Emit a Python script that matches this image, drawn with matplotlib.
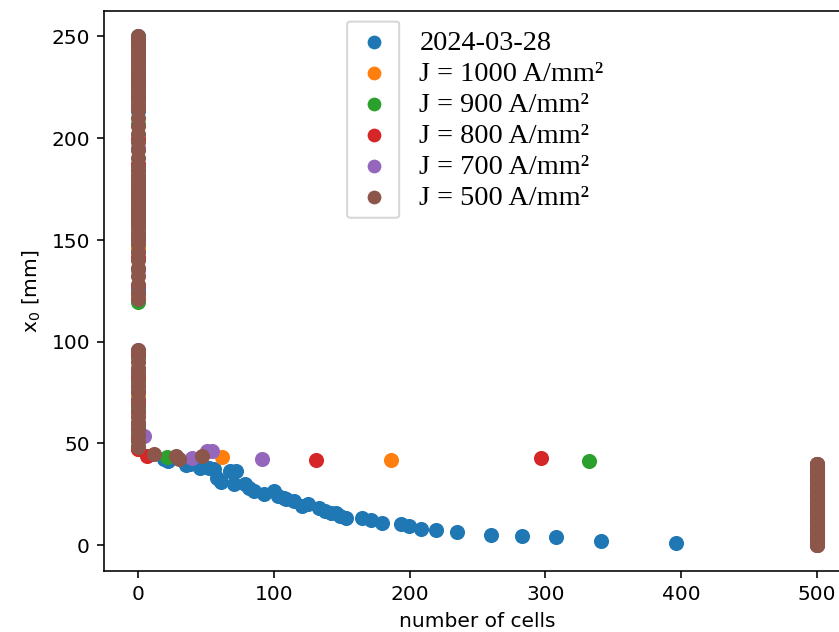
import numpy as np
import matplotlib
matplotlib.use("Agg")
import matplotlib.pyplot as plt
from matplotlib.patches import FancyBboxPatch

# ---------------- data ----------------
labels = ["2024-03-28", "J = 1000 A/mm²", "J = 900 A/mm²",
          "J = 800 A/mm²", "J = 700 A/mm²", "J = 500 A/mm²"]
colors = ["#1f77b4", "#ff7f0e", "#2ca02c", "#d62728", "#9467bd", "#8c564b"]

# x0 values [mm] where the number of cells is 0
blue_zero_x0 = [250, 240, 230, 220, 213, 176, 166, 156, 145, 126, 95, 85, 75, 65, 55, 48]
orange_zero_x0 = [248, 236, 224, 178, 168, 158, 146, 123, 94, 84, 74, 64, 54, 47]
green_zero_x0 = [246, 232, 207, 180, 170, 160, 119.5, 92.6, 79, 68, 58, 48]
red_zero_x0 = [244, 228, 199.5, 187, 172, 162, 141.5, 128, 94, 82, 70.6, 60, 52, 47]
purple_zero_x0 = [247, 237, 226, 195, 184, 174, 164, 152, 135, 124, 96, 86, 76, 66, 57]
brown_zero_x0 = [250, 248, 246, 244, 242, 240, 238, 236, 234, 232, 230, 228, 226, 224,
                 222, 220, 218, 216, 214, 210, 206, 202, 198, 194, 190, 186, 184, 182,
                 180, 178, 176, 174, 172, 170, 168, 166, 164, 162, 160, 158, 156, 154,
                 152, 150, 148, 144, 140, 136, 132, 128, 124, 121,
                 96, 93, 90, 87, 84, 81, 78, 75, 72, 69, 66, 63, 60, 57, 54, 51, 48]

# x0 values [mm] where the number of cells saturates at 500
orange_full_x0 = [40, 36, 32, 28, 24, 20, 16, 12, 8, 4, 0]
green_full_x0 = [40, 36, 32, 28, 24, 20, 16, 12, 8, 4, 0]
red_full_x0 = [40, 36, 32, 28, 24, 20, 16, 12, 8, 4, 0]
purple_full_x0 = [40, 36, 32, 28, 24, 20, 16, 12, 8, 4, 0]
brown_full_x0 = [40, 39, 38, 37, 36, 35, 34, 33, 32, 31, 30, 29, 28, 27, 26, 25, 24,
                 23, 22, 21, 20, 19, 18, 17, 16, 15, 14, 13, 12, 11, 10, 9, 8, 7, 6,
                 5, 4, 3, 2, 1, 0]

# intermediate points (number of cells, x0)
blue_mid_cells = [19, 22, 35, 38, 46, 52, 56, 58.5, 61, 68, 72, 71, 79, 82, 85.5, 93,
                  100, 103, 107.6, 109, 115, 121, 125, 133, 138, 142, 146, 149, 153,
                  165, 171.5, 180, 193.6, 199.7, 208.3, 219.4, 234.6, 260, 283, 308,
                  341, 396]
blue_mid_x0 = [42.5, 41.5, 39.6, 40, 38, 38, 37.2, 33, 31, 36.4, 36.6, 30, 30, 28.2,
               26.6, 25, 26.6, 24.1, 23.3, 22.5, 21.7, 19.2, 20.1, 18.5, 16.8, 16,
               15.7, 14.3, 13.5, 13.5, 12.4, 11.1, 10.3, 9.4, 8.2, 7.3, 6.5, 5.0,
               4.5, 3.8, 2.1, 1.3]
orange_mid_cells = [62, 186]
orange_mid_x0 = [43.2, 41.6]
green_mid_cells = [21.6, 332.4]
green_mid_x0 = [43.2, 41.2]
red_mid_cells = [6.9, 131, 296.8]
red_mid_x0 = [43.7, 41.6, 42.9]
purple_mid_cells = [4.4, 40, 50.6, 54.8, 91.6]
purple_mid_x0 = [53.5, 42.9, 46.1, 46.1, 42.4]
brown_mid_cells = [11.8, 27.8, 30.2, 47.4]
brown_mid_x0 = [44.9, 43.7, 42.1, 43.7]

series = [
    (blue_zero_x0, blue_mid_cells, blue_mid_x0, []),
    (orange_zero_x0, orange_mid_cells, orange_mid_x0, orange_full_x0),
    (green_zero_x0, green_mid_cells, green_mid_x0, green_full_x0),
    (red_zero_x0, red_mid_cells, red_mid_x0, red_full_x0),
    (purple_zero_x0, purple_mid_cells, purple_mid_x0, purple_full_x0),
    (brown_zero_x0, brown_mid_cells, brown_mid_x0, brown_full_x0),
]
ZERO_CELLS = 0
MAX_CELLS = 500

# ---------------- plot ----------------
DPI = 145
fig = plt.figure(figsize=(839.4 / DPI, 632.4 / DPI), dpi=DPI)
ax = fig.add_axes([104 / 839, 0.0970, 746.5 / 839, 0.8856])

for (zero, mc, mx, full), lab, col in zip(series, labels, colors):
    xs = np.concatenate([np.full(len(zero), ZERO_CELLS), np.asarray(mc, float),
                         np.full(len(full), MAX_CELLS)])
    ys = np.concatenate([np.asarray(zero, float), np.asarray(mx, float),
                         np.asarray(full, float)])
    ax.scatter(xs, ys, color=col, label=lab, s=42)

ax.set_xlabel("number of cells")
ax.set_ylabel("x$_0$ [mm]")
ax.set_xticks([0, 100, 200, 300, 400, 500])
ax.set_yticks([0, 50, 100, 150, 200, 250])

leg = ax.legend(loc="upper left", bbox_to_anchor=(346 / 839, 1 - 30 / 632),
                bbox_transform=fig.transFigure, frameon=False, borderpad=0,
                borderaxespad=0, labelspacing=0.19, handlelength=2.0,
                handletextpad=0.6, markerscale=0.9,
                prop={"family": "Liberation Serif", "size": 14})

frame = FancyBboxPatch((347 / 839, 1 - 218 / 632), 52 / 839, 196 / 632,
                       boxstyle="round,pad=0,rounding_size=0.004",
                       transform=fig.transFigure, facecolor="white", alpha=0.8,
                       edgecolor="0.8", linewidth=1.0, zorder=4, clip_on=False)
ax.add_artist(frame)

fig.savefig("out.png", dpi=DPI)
